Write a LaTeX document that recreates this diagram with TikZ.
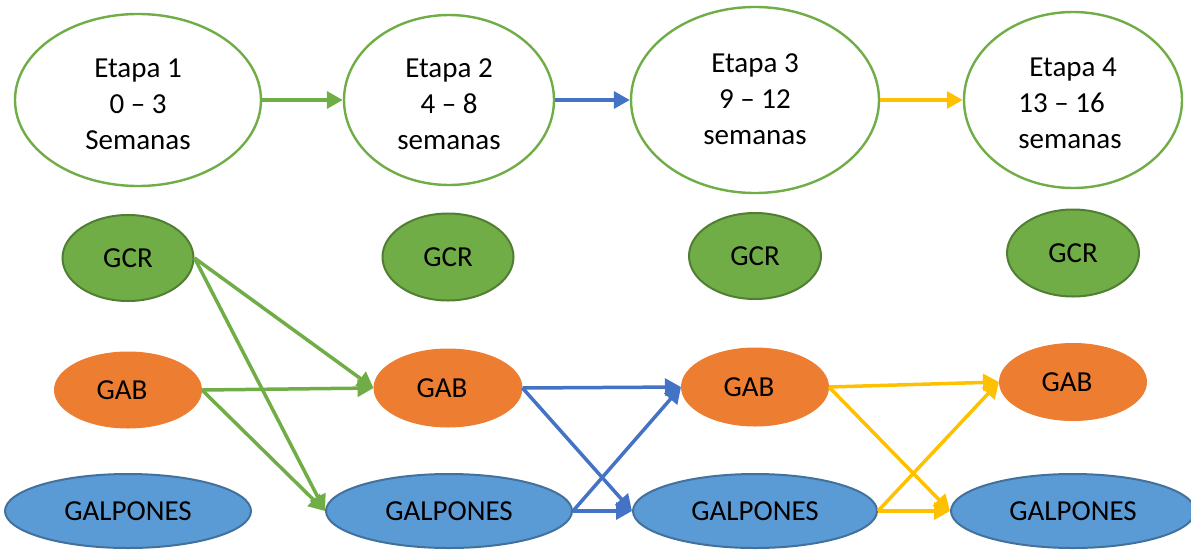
\documentclass[tikz,border=0pt]{standalone}
\usepackage{fontspec}
\setmainfont{Carlito}
\usetikzlibrary{arrows.meta,shapes.geometric}
\definecolor{ogreen}{HTML}{70AD47}
\definecolor{ogreendk}{HTML}{507E32}
\definecolor{oorange}{HTML}{ED7D31}
\definecolor{oblue}{HTML}{5B9BD5}
\definecolor{obluedk}{HTML}{41719C}
\definecolor{lblue}{HTML}{4472C4}
\definecolor{ogold}{HTML}{FFC000}
\tikzset{
  txt/.style={font=\fontsize{29}{36}\selectfont},
  stage/.style={ellipse, draw=ogreen, line width=2.4pt, fill=white, inner sep=0pt},
  stagetxt/.style={align=center, inner sep=0pt, txt},
  gcr/.style={ellipse, draw=ogreendk, fill=ogreen, line width=2pt, inner sep=0pt, txt},
  gab/.style={ellipse, draw=oorange, fill=oorange, line width=1pt, inner sep=0pt, txt},
  galp/.style={ellipse, draw=obluedk, fill=oblue, line width=2pt, inner sep=0pt, txt},
  link/.style={line width=3.5pt, -{Triangle[length=16pt,width=17pt]}},
}
\begin{document}
\begin{tikzpicture}[x=1pt,y=-1pt]
\useasboundingbox (0,0) rectangle (1191,549);

% stages
\node[stage, minimum width=246pt, minimum height=172pt] (e1) at (138,100) {};
\node[stage, minimum width=210pt, minimum height=170pt] (e2) at (449,100) {};
\node[stage, minimum width=248pt, minimum height=186pt] (e3) at (755,100) {};
\node[stage, minimum width=218pt, minimum height=176pt] (e4) at (1073,100) {};

\node[stagetxt] (t1) at (138,104.6) {Etapa 1\\0 – 3\\Semanas};
\node[stagetxt] (t2) at (449,104.6) {Etapa 2\\4 – 8\\semanas};
\node[stagetxt] (t3) at (755,99.5) {Etapa 3\\9 – 12\\semanas};
\node[stagetxt, align=left] (t4) at (1070,103.5) {\hspace*{11pt}Etapa 4\\13 – 16\\semanas};

% GCR row
\node[gcr, minimum width=131pt, minimum height=86pt] (c1) at (128,258) {GCR};
\node[gcr, minimum width=131pt, minimum height=87pt] (c2) at (448,257) {GCR};
\node[gcr, minimum width=132pt, minimum height=86pt] (c3) at (755,256) {GCR};
\node[gcr, minimum width=132pt, minimum height=87pt] (c4) at (1073,253) {GCR};

% GAB row
\node[gab, minimum width=147pt, minimum height=76pt] (b1) at (128,390) {GAB\hspace*{12pt}};
\node[gab, minimum width=148pt, minimum height=78pt] (b2) at (448,388) {GAB\hspace*{12pt}};
\node[gab, minimum width=147pt, minimum height=78pt] (b3) at (755,387) {GAB\hspace*{12pt}};
\node[gab, minimum width=147pt, minimum height=77pt] (b4) at (1073,382) {GAB\hspace*{12pt}};

% GALPONES row
\node[galp, minimum width=246pt, minimum height=74pt] (g1) at (128,511) {GALPONES};
\node[galp, minimum width=246pt, minimum height=74pt] (g2) at (449,511) {GALPONES};
\node[galp, minimum width=244pt, minimum height=74pt] (g3) at (755,511) {GALPONES};
\node[galp, minimum width=244pt, minimum height=74pt] (g4) at (1073,511) {GALPONES};

% stage sequence
\draw[link, ogreen] (e1.east) -- (e2.west);
\draw[link, lblue] (e2.east) -- (e3.west);
\draw[link, ogold] (e3.east) -- (e4.west);

% stage 1 -> stage 2
\draw[link, ogreen] (c1.east) -- (b2.west);
\draw[link, ogreen] (c1.east) -- (g2.west);
\draw[link, ogreen] (b1.east) -- (b2.west);
\draw[link, ogreen] (b1.east) -- (g2.west);

% stage 2 -> stage 3
\draw[link, lblue] (b2.east) -- (b3.west);
\draw[link, lblue] (b2.east) -- (g3.west);
\draw[link, lblue] (g2.east) -- (b3.west);
\draw[link, lblue] (g2.east) -- (g3.west);

% stage 3 -> stage 4
\draw[link, ogold] (b3.east) -- (b4.west);
\draw[link, ogold] (b3.east) -- (g4.west);
\draw[link, ogold] (g3.east) -- (b4.west);
\draw[link, ogold] (g3.east) -- (g4.west);
\end{tikzpicture}
\end{document}
